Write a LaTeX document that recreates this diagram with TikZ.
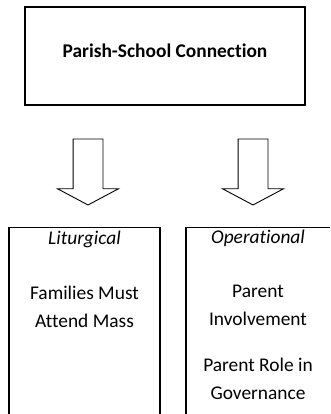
\documentclass[tikz,border=0pt]{standalone}
\usepackage{fontspec}
\setmainfont{Carlito}[Ligatures=NoCommon]
\usetikzlibrary{shapes,arrows,positioning}

\begin{document}
\begin{tikzpicture}[x=1pt, y=-1pt,
  box/.style={rectangle, draw=black, line width=1.2pt, inner sep=0pt},
  blockarrow/.style={single arrow, draw=black, line width=0.9pt, inner sep=14.5pt, minimum height=66pt, single arrow head extend=15.5pt, single arrow tip angle=124, shape border rotate=270},
  txt/.style={align=center, inner sep=0pt, anchor=base, font=\fontsize{19.4}{27.5}\selectfont}
]
\useasboundingbox (0,0) rectangle (330,414);
\clip (0,0) rectangle (330,414);

% Top box
\node[box, minimum width=280pt, minimum height=98pt] (parish) at (165,56) {};
\node[txt] (parishtext) at (165,58) {\textbf{Parish-School Connection}};

% Block arrows
\node[blockarrow] (leftarrow) at (88,168) {};
\node[blockarrow] (rightarrow) at (253,168) {};

% Bottom boxes
\node[box, minimum width=151pt, minimum height=220pt, anchor=north] (liturgical) at (84.5,227) {};
\node[box, minimum width=160pt, minimum height=220pt, anchor=north] (operational) at (266,227) {};

% Box texts
\node[txt] (littitle) at (84.5,244) {\textit{Liturgical}};
\node[txt] (mass) at (84.5,327) {Families Must\\Attend Mass};

\node[txt] (optitle) at (258,243) {\textit{Operational}};
\node[txt] (involve) at (258,325) {Parent\\Involvement};
\node[txt] (govern) at (258,399) {Parent Role in\\Governance};

\end{tikzpicture}
\end{document}
